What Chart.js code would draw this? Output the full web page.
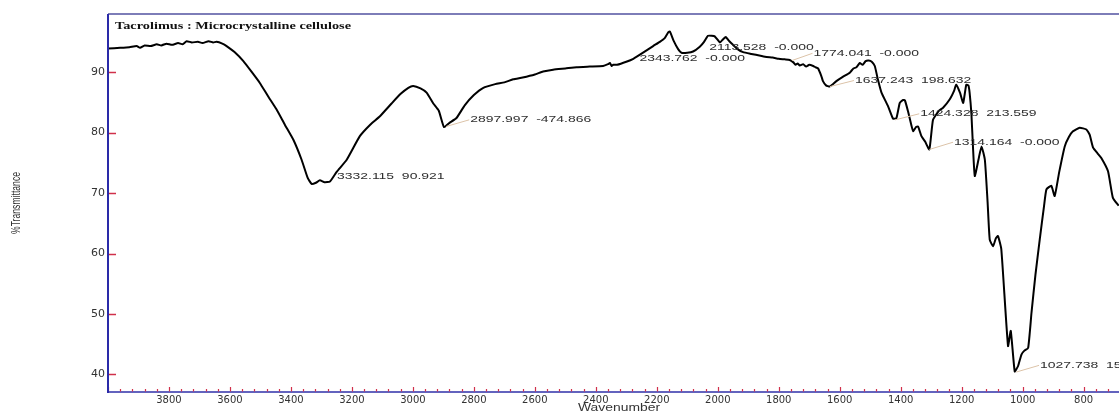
<!DOCTYPE html>
<html><head><meta charset="utf-8">
<script src="https://cdn.jsdelivr.net/npm/chart.js@4.4.1/dist/chart.umd.min.js"></script>
<style>html,body{margin:0;padding:0;background:#fff;overflow:hidden}canvas{display:block}</style>
</head><body><canvas id="c" width="1119" height="420"></canvas>
<script>
const wavenumbers = [4000,3960,3930,3906,3895,3880,3860,3840,3825,3808,3790,3770,3755,3742,3725,3705,3690,3670,3655,3644,3625,3611,3585,3556,3530,3502,3475,3447,3420,3392,3365,3345,3332,3318,3305,3290,3272,3250,3217,3174,3140,3108,3070,3040,3015,2999,2975,2955,2933,2915,2898,2880,2857,2830,2800,2769,2730,2700,2671,2640,2600,2573,2540,2500,2463,2420,2376,2360,2354,2348,2343,2330,2300,2277,2245,2212,2190,2174,2162,2157,2145,2130,2119,2100,2081,2059,2045,2032,2020,2010,1993,1983,1974,1962,1950,1935,1917,1890,1860,1840,1820,1800,1780,1764,1752,1745,1738,1731,1720,1710,1700,1687,1680,1671,1660,1655,1645,1633,1625,1611,1590,1567,1555,1545,1534,1525,1515,1505,1495,1485,1475,1463,1441,1425,1414,1403,1392,1386,1376,1365,1359,1350,1343,1332,1320,1306,1294,1275,1261,1239,1225,1218,1205,1195,1185,1178,1174,1168,1163,1157,1145,1135,1124,1115,1108,1097,1088,1081,1070,1048,1039,1026,1015,1004,995,982,971,958,944,930,922,906,895,880,862,848,835,813,791,780,769,755,742,720,704,685];
const transmittance = [93.9,94.0,94.1,94.3,94.0,94.4,94.3,94.6,94.4,94.7,94.5,94.8,94.6,95.1,94.9,95.0,94.8,95.1,94.9,95.0,94.7,94.3,93.3,91.8,90.1,88.2,86.0,83.8,81.3,78.8,75.5,72.5,71.5,71.7,72.1,71.8,71.9,73.5,75.5,79.4,81.3,82.7,84.8,86.4,87.4,87.7,87.3,86.6,84.8,83.6,80.9,81.6,82.4,84.5,86.2,87.4,88.0,88.3,88.8,89.1,89.6,90.1,90.4,90.6,90.8,90.9,91.0,91.3,91.5,91.0,91.2,91.2,91.7,92.2,93.2,94.3,95.0,95.6,96.6,96.7,95.2,93.8,93.2,93.2,93.4,94.2,95.0,96.0,96.0,95.9,94.9,95.4,95.8,95.1,94.5,93.8,93.3,93.0,92.7,92.5,92.4,92.2,92.1,92.0,91.6,91.2,91.4,91.1,91.3,90.9,91.2,91.0,90.8,90.6,89.3,88.5,87.8,87.6,87.9,88.5,89.2,89.9,90.6,90.8,91.5,91.2,91.8,91.9,91.7,91.0,88.8,86.6,84.3,82.3,82.4,84.9,85.4,85.3,83.5,81.2,80.2,80.9,81.0,79.4,78.5,77.2,82.1,83.6,84.1,85.5,86.9,87.9,86.5,84.9,87.9,87.8,86.6,83.0,77.7,72.8,75.5,77.7,75.5,68.5,62.3,61.2,62.5,62.9,60.7,44.7,47.2,40.5,41.4,43.3,43.9,44.4,50.2,56.5,62.3,67.8,70.6,71.2,69.5,73.5,77.7,79.3,80.2,80.8,80.5,79.6,77.5,76.6,75.8,73.6,69.2,67.9];

const xTickValues = [3800,3600,3400,3200,3000,2800,2600,2400,2200,2000,1800,1600,1400,1200,1000,800];
const yTickValues = [40,50,60,70,80,90];
const xMinorStep = 40;

const peakLabels   = ["3332.115  90.921","2897.997  -474.866","2343.762  -0.000","2113.528  -0.000","1774.041  -0.000","1637.243  198.632","1424.328  213.559","1314.164  -0.000","1027.738  151.893"];
const peakAnchorWn = [3252, 2891, 2257, 2028, 1757, 1632, 1418, 1306, 1021];
const peakAnchorT  = [72.6, 81.0, 92.2, 94.0, 91.9, 87.6, 82.1, 77.2, 40.4];
const peakTextWn   = [3249, 2812, 2257, 2028, 1686, 1550, 1336, 1225, 943];
const peakTextT    = [72.7, 82.1, 92.2, 94.0, 93.1, 88.6, 83.1, 78.4, 41.5];

const chartTitle = "Tacrolimus : Microcrystalline cellulose";
const xTitle = "Wavenumber";
const yTitle = "%Transmittance";

const points = wavenumbers.map((w, i) => ({x: w, y: transmittance[i]}));

function stretchText(ctx, text, x, y, font, sx, align, color) {
  ctx.save();
  ctx.font = font;
  ctx.fillStyle = color;
  ctx.textAlign = align;
  ctx.textBaseline = 'middle';
  ctx.translate(x, y);
  ctx.scale(sx, 1);
  ctx.fillText(text, 0, 0);
  ctx.restore();
}
function fitText(ctx, text, x, y, font, targetW, align, color, rotate) {
  ctx.save();
  ctx.font = font;
  const w = ctx.measureText(text).width;
  ctx.fillStyle = color;
  ctx.textAlign = align;
  ctx.textBaseline = 'middle';
  ctx.translate(x, y);
  if (rotate) ctx.rotate(-Math.PI / 2);
  ctx.scale(targetW / w, 1);
  ctx.fillText(text, 0, 0);
  ctx.restore();
}

const decor = {
  id: 'decor',
  afterDatasetsDraw(chart) {
    const ctx = chart.ctx, a = chart.chartArea;
    const xs = chart.scales.x, ys = chart.scales.y;
    ctx.save();
    // top border
    ctx.strokeStyle = '#5252a0'; ctx.lineWidth = 1.5;
    ctx.beginPath(); ctx.moveTo(a.left, a.top); ctx.lineTo(a.right + 5, a.top); ctx.stroke();
    // bottom axis
    ctx.strokeStyle = '#2f2fa8'; ctx.lineWidth = 1.5;
    ctx.beginPath(); ctx.moveTo(a.left, a.bottom); ctx.lineTo(a.right + 5, a.bottom); ctx.stroke();
    // x ticks (inside, red)
    ctx.strokeStyle = '#d0304a'; ctx.lineWidth = 1.2;
    for (let v = xs.max; v >= xs.min; v -= xMinorStep) {
      const major = v % 200 === 0;
      const px = Math.round(xs.getPixelForValue(v)) + 0.5;
      ctx.beginPath(); ctx.moveTo(px, a.bottom - 0.5); ctx.lineTo(px, a.bottom - (major ? 5 : 3)); ctx.stroke();
    }
    // y ticks
    ctx.lineWidth = 1.5;
    yTickValues.forEach(v => {
      const py = Math.round(ys.getPixelForValue(v)) + 0.5;
      ctx.beginPath(); ctx.moveTo(a.left, py); ctx.lineTo(a.left + 8, py); ctx.stroke();
    });
    // left axis
    ctx.strokeStyle = '#2a2aa8'; ctx.lineWidth = 2;
    ctx.beginPath(); ctx.moveTo(a.left, a.top); ctx.lineTo(a.left, a.bottom + 1); ctx.stroke();

    // peak annotations
    peakLabels.forEach((t, i) => {
      const x0 = xs.getPixelForValue(peakAnchorWn[i]), y0 = ys.getPixelForValue(peakAnchorT[i]);
      const x1 = xs.getPixelForValue(peakTextWn[i]), y1 = ys.getPixelForValue(peakTextT[i]);
      if (Math.abs(x1 - x0) > 3) {
        ctx.strokeStyle = '#dcc3a8'; ctx.lineWidth = 1;
        ctx.beginPath(); ctx.moveTo(x0, y0); ctx.lineTo(x1 - 1, y1); ctx.stroke();
      }
      stretchText(ctx, t, x1, y1, '9px "Liberation Sans", Arial, sans-serif', 1.55, 'left', '#2e2e2e');
    });

    // titles
    fitText(ctx, chartTitle, 115, 26, 'bold 10px "Liberation Serif", "Times New Roman", serif', 236, 'left', '#111');
    fitText(ctx, xTitle, 619, 408, '10px "Liberation Sans", Arial, sans-serif', 82, 'center', '#333');
    fitText(ctx, yTitle, 17, 203, '12px "Liberation Sans", Arial, sans-serif', 62, 'center', '#333', true);
    ctx.restore();
  }
};

new Chart(document.getElementById('c'), {
  type: 'scatter',
  data: { datasets: [{
    data: points, showLine: true, borderColor: '#000', borderWidth: 2,
    pointRadius: 0, tension: 0.15, fill: false
  }]},
  options: {
    responsive: false, animation: false, devicePixelRatio: 1,
    layout: { padding: { top: 14, left: 0, right: 0, bottom: 0 } },
    plugins: { legend: { display: false }, tooltip: { enabled: false } },
    scales: {
      x: {
        type: 'linear', reverse: true, min: 684, max: 4000,
        afterFit: s => { s.height = 28; },
        afterBuildTicks: s => { s.ticks = xTickValues.map(v => ({value: v})); },
        grid: { display: false, drawTicks: false },
        border: { display: false },
        ticks: { autoSkip: false, maxRotation: 0, padding: 2, color: '#333',
                 callback: v => String(v),
                 font: { family: '"DejaVu Sans", sans-serif', size: 10 } }
      },
      y: {
        type: 'linear', min: 37.1, max: 99.6,
        afterFit: s => { s.width = 108; },
        afterBuildTicks: s => { s.ticks = yTickValues.map(v => ({value: v})); },
        grid: { display: false, drawTicks: false },
        border: { display: false },
        ticks: { padding: 3, color: '#333', callback: v => String(v),
                 font: { family: '"DejaVu Sans", sans-serif', size: 11 } }
      }
    }
  },
  plugins: [decor]
});
</script>
</body></html>
